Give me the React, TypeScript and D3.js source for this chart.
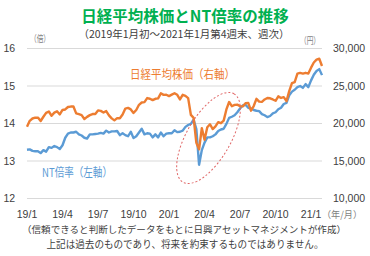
import React from "react";
import * as d3 from "d3";

// ---- data ----
const weeks: string[] = d3.timeFriday
  .range(new Date(2019, 0, 4), new Date(2021, 0, 30))
  .map((d) => d3.timeFormat("%Y-%m-%d")(d));

const nikkei: number[] = [
  // 2019
  19561, 20359, 20666, 20773, 20788, 20333, 20900, 21425, 21602, 21025, 21450, 21627, 21205,
  21807, 21870, 22200, 22258, 22258, 21344, 21250, 21117, 20601, 20884, 21116, 21258, 21275,
  21746, 21685, 21466, 21658, 21087, 20684, 20418, 20710, 20704, 21199, 21988, 22079, 21878,
  21410, 21798, 22492, 22799, 22850, 23391, 23303, 23112, 23293, 23354, 24023, 23816, 23837,
  // 2020
  23656, 23850, 24041, 23827, 23205, 23827, 23687, 23386, 21142, 20749, 17431, 16552, 19389,
  17820, 19498, 19897, 19262, 19619, 20179, 20037, 20388, 21877, 22863, 22305, 22478, 22512,
  22306, 22290, 22696, 22751, 21710, 22329, 23289, 22920, 22882, 23205, 23406, 23360, 23205,
  23030, 23619, 23410, 23516, 22977, 24325, 25385, 25527, 26644, 26751, 26652, 26763, 26656,
  // 2021
  27444, 28139, 28519, 28631, 27663,
];

const ntRatio: number[] = [
  // 2019
  13.30, 13.31, 13.27, 13.26, 13.26, 13.21, 13.29, 13.25, 13.37, 13.35, 13.40, 13.37, 13.32,
  13.42, 13.62, 13.73, 13.76, 13.76, 13.78, 13.71, 13.68, 13.62, 13.60, 13.71, 13.71, 13.72,
  13.73, 13.75, 13.73, 13.81, 13.76, 13.79, 13.79, 13.80, 13.69, 13.74, 13.69, 13.66, 13.78,
  13.61, 13.66, 13.76, 13.86, 13.71, 13.74, 13.73, 13.63, 13.71, 13.63, 13.76, 13.66, 13.73,
  // 2020
  13.74, 13.74, 13.82, 13.77, 13.78, 13.81, 13.91, 13.96, 13.99, 14.10, 13.85, 12.90, 13.29,
  13.49, 13.63, 13.63, 13.66, 13.71, 13.80, 13.84, 13.86, 13.99, 14.15, 14.18, 14.22, 14.30,
  14.40, 14.48, 14.50, 14.42, 14.40, 14.36, 14.34, 14.33, 14.25, 14.22, 14.17, 14.20, 14.27,
  14.30, 14.38, 14.42, 14.52, 14.55, 14.75, 14.85, 14.90, 14.97, 15.00, 14.95, 15.05, 14.97,
  // 2021
  15.15, 15.30, 15.40, 15.45, 15.29,
];

const tickWeeks: string[] = [
  "2019-01-04", "2019-04-05", "2019-07-05", "2019-10-04", "2020-01-03",
  "2020-04-03", "2020-07-03", "2020-10-02", "2021-01-01",
];
const tickLabels: string[] = ["19/1", "19/4", "19/7", "19/10", "20/1", "20/4", "20/7", "20/10", "21/1"];
const leftTicks: number[] = [12, 13, 14, 15, 16];
const rightTicks: number[] = [10000, 15000, 20000, 25000, 30000];

const title = "日経平均株価とNT倍率の推移";
const subtitle = "（2019年1月初～2021年1月第4週末、週次）";
const nikkeiLabel = "日経平均株価（右軸）";
const ntLabel = "NT倍率（左軸）";
const note1 = "（信頼できると判断したデータをもとに日興アセットマネジメントが作成）";
const note2 = "上記は過去のものであり、将来を約束するものではありません。";

// ---- styles ----
const ORANGE = "#ED7D31";
const BLUE = "#5B9BD5";
const JP = "'Noto Sans CJK JP', 'Noto Sans', sans-serif";
const NUM = "'Liberation Sans', Arial, sans-serif";

export default function App() {
  const W = 370, H = 256;
  const x0 = 27, x1 = 322, yTop = 48.5, yBot = 198.5;

  const x = d3.scalePoint<string>().domain(weeks).range([x0, x1]).padding(0);
  const yL = d3.scaleLinear().domain([12, 16]).range([yBot, yTop]);
  const yR = d3.scaleLinear().domain([10000, 30000]).range([yBot, yTop]);

  const ntLine = d3.line<number>()
    .x((_, i) => x(weeks[i]) as number)
    .y((d) => yL(d));
  const nkLine = d3.line<number>()
    .x((_, i) => x(weeks[i]) as number)
    .y((d) => yR(d));

  const fmt = d3.format(",");

  return (
    <svg width={W} height={H} style={{ position: "absolute", left: 0, top: 0, background: "#fff" }}>
      <rect x={0} y={0} width={W} height={H} fill="#fff" />
      {/* title */}
      <text x={185} y={22} textAnchor="middle" fontFamily={JP} fontWeight="bold" fontSize={15.5} fill="#00B050">
        {title}
      </text>
      <text x={184} y={38} textAnchor="middle" fontFamily={JP} fontSize={10.5} fill="#404040">
        {subtitle}
      </text>
      {/* unit labels */}
      <text x={30} y={42} fontFamily={JP} fontSize={9.5} fill="#7f7f7f" textLength={20} lengthAdjust="spacingAndGlyphs">（倍）</text>
      <text x={300} y={44} fontFamily={JP} fontSize={9.5} fill="#7f7f7f" textLength={20} lengthAdjust="spacingAndGlyphs">（円）</text>

      {/* gridlines */}
      {leftTicks.map((t) => (
        <line key={t} x1={x0} x2={x1} y1={yL(t)} y2={yL(t)} stroke="#d9d9d9" strokeWidth={1} />
      ))}
      {/* left ticks */}
      {leftTicks.map((t) => (
        <text key={"l" + t} x={3.5} y={yL(t)} dy="0.36em" fontFamily={NUM} fontSize={10.5} fill="#404040">
          {t}
        </text>
      ))}
      {/* right ticks */}
      {rightTicks.map((t) => (
        <text key={"r" + t} x={333} y={yR(t)} dy="0.36em" fontFamily={NUM} fontSize={10.5} fill="#404040">
          {fmt(t)}
        </text>
      ))}
      {/* x ticks */}
      {tickWeeks.map((w, i) => (
        <text key={w} x={x(w) as number} y={218} textAnchor="middle" fontFamily={NUM} fontSize={10.5} fill="#404040">
          {tickLabels[i]}
        </text>
      ))}
      <text x={322} y={218} fontFamily={JP} fontSize={9.5} fill="#7f7f7f" textLength={40} lengthAdjust="spacingAndGlyphs">（年/月）</text>

      {/* lines */}
      <path d={ntLine(ntRatio) || ""} fill="none" stroke={BLUE} strokeWidth={2.4} strokeLinejoin="round" />
      <path d={nkLine(nikkei) || ""} fill="none" stroke={ORANGE} strokeWidth={2.4} strokeLinejoin="round" />

      {/* highlight ellipse */}
      <ellipse cx={208.5} cy={138} rx={51} ry={22} transform="rotate(-60 208.5 138)" fill="none"
        stroke="#E06666" strokeWidth={1} strokeDasharray="2,2" />

      {/* series labels */}
      <text x={130} y={79} fontFamily={JP} fontSize={12} fill={ORANGE} textLength={105} lengthAdjust="spacingAndGlyphs">{nikkeiLabel}</text>
      <text x={42} y={177} fontFamily={JP} fontSize={12} fill={BLUE} textLength={70} lengthAdjust="spacingAndGlyphs">{ntLabel}</text>

      {/* notes */}
      <text x={184} y={233} textAnchor="middle" fontFamily={JP} fontSize={9.5} fill="#404040" textLength={324} lengthAdjust="spacingAndGlyphs">{note1}</text>
      <text x={185} y={248} textAnchor="middle" fontFamily={JP} fontSize={10} fill="#404040" textLength={277} lengthAdjust="spacingAndGlyphs">{note2}</text>
    </svg>
  );
}
